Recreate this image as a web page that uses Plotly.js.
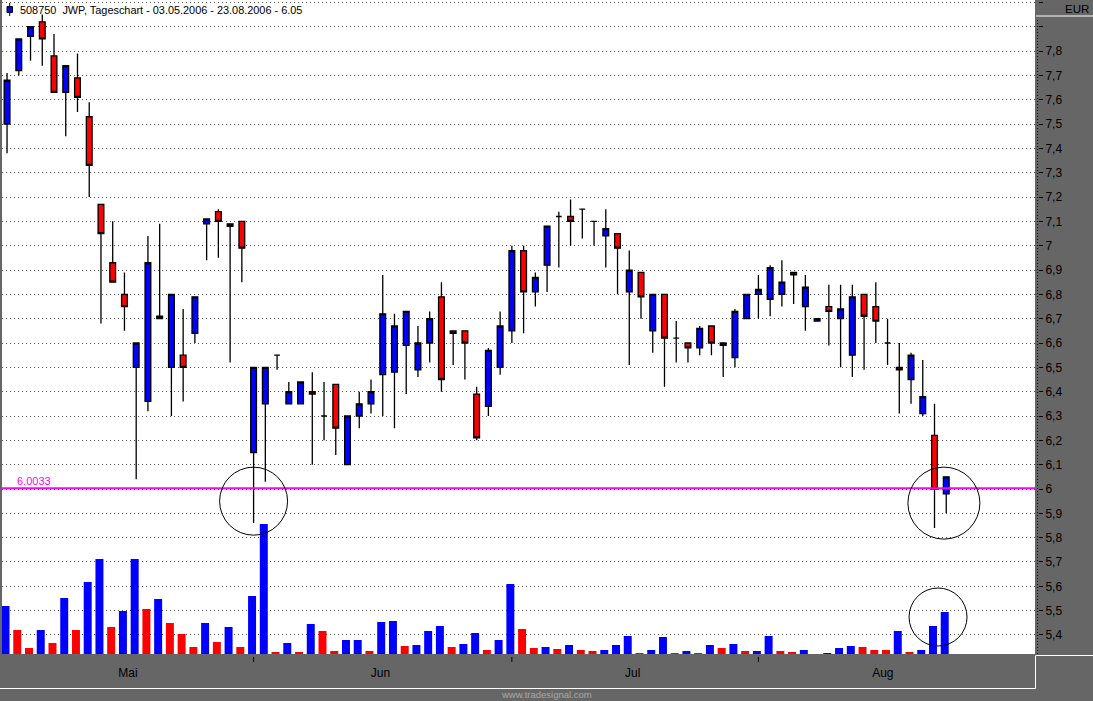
<!DOCTYPE html>
<html>
<head>
<meta charset="utf-8">
<script src="https://cdn.plot.ly/plotly-3.0.1.min.js"></script>
<style>
  html, body { margin: 0; padding: 0; background: #666666; }
  #chart { width: 1093px; height: 701px; }
</style>
</head>
<body>
<div id="chart"></div>
<script>
// ---- Daily OHLC, 03.05.2006 - 23.08.2006 (one entry per trading day) ----
const open = [7.50,7.72,7.86,7.92,7.78,7.63,7.69,7.53,7.17,6.93,6.80,6.50,6.36,6.70,6.50,6.55,6.64,7.09,7.14,7.09,7.10,
              6.15,6.35,6.55,6.35,6.35,6.40,6.30,6.43,6.10,6.30,6.35,6.47,6.48,6.59,6.49,6.60,6.79,6.65,6.65,6.39,6.34,6.50,
              6.65,6.98,6.81,6.92,7.12,7.12,7.15,7.10,7.04,7.05,6.81,6.89,6.65,6.80,6.62,6.60,6.58,6.67,6.60,6.54,6.70,
              6.80,6.78,6.80,6.89,6.75,6.69,6.75,6.70,6.55,6.80,6.75,6.60,6.50,6.45,6.31,6.22,5.98];
const high = [7.71,7.85,7.90,7.95,7.87,7.74,7.79,7.59,7.17,7.10,6.89,6.60,7.04,7.09,6.80,6.74,6.79,7.11,7.15,7.09,7.10,
              6.50,6.50,6.55,6.44,6.44,6.48,6.44,6.43,6.30,6.40,6.45,6.88,6.72,6.73,6.67,6.73,6.85,6.65,6.65,6.42,6.58,6.73,
              7.00,7.00,6.89,7.08,7.14,7.19,7.15,7.10,7.15,7.05,6.98,6.89,6.80,6.80,6.69,6.60,6.67,6.67,6.60,6.74,6.80,
              6.88,6.92,6.94,6.89,6.88,6.70,6.84,6.84,6.84,6.80,6.85,6.70,6.60,6.56,6.53,6.35,6.05];
const low  = [7.38,7.70,7.76,7.74,7.63,7.45,7.55,7.20,6.68,6.85,6.65,6.04,6.32,6.70,6.30,6.36,6.60,6.94,6.95,6.52,6.85,
              5.86,6.03,6.49,6.35,6.35,6.10,6.20,6.14,6.10,6.25,6.31,6.30,6.25,6.39,6.46,6.52,6.40,6.51,6.45,6.20,6.30,6.47,
              6.60,6.64,6.75,6.81,6.91,7.00,7.03,7.00,6.91,6.80,6.51,6.70,6.56,6.42,6.52,6.52,6.55,6.55,6.46,6.50,6.70,
              6.70,6.71,6.75,6.76,6.65,6.69,6.59,6.50,6.46,6.49,6.60,6.51,6.31,6.35,6.30,5.84,5.90];
const close = [7.68,7.85,7.90,7.85,7.63,7.74,7.61,7.33,7.05,6.85,6.75,6.60,6.93,6.71,6.80,6.50,6.79,7.11,7.10,7.08,6.99,
               6.50,6.50,6.55,6.40,6.44,6.39,6.30,6.25,6.30,6.35,6.40,6.72,6.67,6.73,6.60,6.70,6.45,6.64,6.60,6.21,6.57,6.67,
               6.98,6.81,6.87,7.08,7.12,7.10,7.15,7.10,7.07,6.99,6.90,6.79,6.80,6.62,6.62,6.58,6.66,6.60,6.59,6.73,6.80,
               6.82,6.91,6.85,6.88,6.83,6.70,6.73,6.74,6.79,6.71,6.69,6.60,6.49,6.55,6.38,6.00,6.05];
// ---- Volume (relative units) and its colour flag (B = blue, R = red) ----
const volume = [48,24,6,24,11,56,24,72,95,27,43,95,45,55,31,20,7,31,12,27,7,58,130,2,11,2,30,23,3,14,14,
                3,32,33,8,9,23,28,7,10,21,4,14,70,25,6,7,5,9,4,3,4,9,18,1,4,17,1,3,1,
                9,6,10,3,3,18,3,2,4,0,1,6,8,7,4,4,23,2,4,28,42];
const volumeColour = ['B','R','R','B','R','B','R','B','B','R','B','B','R','B','R','R','R','B','R','B','R','B','B','R','B','R','B','R','R','B','B',
                      'R','B','B','R','B','B','B','R','B','B','R','B','B','R','R','B','R','B','R','R','B','B','B','R','B','B','R','B','R',
                      'B','R','B','R','B','B','R','R','B','B','B','B','B','R','R','R','B','R','B','B','B'];
// ---- Axis labels ----
const monthLabels = ['Mai', 'Jun', 'Jul', 'Aug'];
const monthStartDay = [21, 43, 64];               // index of first trading day of Jun, Jul, Aug
const priceTickValues = [5.4,5.5,5.6,5.7,5.8,5.9,6.0,6.1,6.2,6.3,6.4,6.5,6.6,6.7,6.8,6.9,7.0,7.1,7.2,7.3,7.4,7.5,7.6,7.7,7.8,7.9,8.0];
const priceTickLabels = ['5,4','5,5','5,6','5,7','5,8','5,9','6','6,1','6,2','6,3','6,4','6,5','6,6','6,7','6,8','6,9','7','7,1','7,2','7,3','7,4','7,5','7,6','7,7','7,8','',''];
const supportLevel = 6.0033;
const titleText = '508750\u00a0 JWP, Tageschart - 03.05.2006 - 23.08.2006 - 6.05';

// ---- geometry helpers (layout only) ----
const W = 1093, H = 701, ML = 2, MR = 58, MT = 0, MB = 47;
const PW = W - ML - MR, PH = H - MT - MB;
const px = v => (v - ML) / PW;        // page x pixel -> paper
const py = v => (MT + PH - v) / PH;   // page y pixel -> paper

const days = open.map((_, i) => i);
const BLUE = '#0000ff', RED = '#ff0000';
const FONT = 'Liberation Sans, Arial, sans-serif';

const volumeTrace = {
  type: 'bar', x: days, y: volume, yaxis: 'y2',
  width: 0.68, offset: -0.47,
  marker: { color: volumeColour.map(c => c === 'B' ? BLUE : RED), line: { width: 0 } },
  hoverinfo: 'skip'
};
const candleTrace = {
  type: 'candlestick', x: days, open: open, high: high, low: low, close: close,
  increasing: { line: { color: '#000000', width: 1.3 }, fillcolor: BLUE },
  decreasing: { line: { color: '#000000', width: 1.3 }, fillcolor: RED },
  whiskerwidth: 0, hoverinfo: 'x+y'
};

// month label positions: middle of each month's trading-day block
const monthLabelPos = [10.3, 31.8, 53.3, 74.6];

const shapes = [];
// support line
shapes.push({ type: 'line', xref: 'paper', x0: 0, x1: 1, yref: 'y', y0: supportLevel, y1: supportLevel,
  line: { color: '#ff00ff', width: 2 }, layer: 'above' });
// circles
shapes.push({ type: 'circle', xref: 'x', yref: 'y', xsizemode: 'pixel', ysizemode: 'pixel',
  xanchor: 21, yanchor: 5.95, x0: -34, x1: 34, y0: -34, y1: 34, line: { color: '#000', width: 1 }, layer: 'above' });
shapes.push({ type: 'circle', xref: 'x', yref: 'y', xsizemode: 'pixel', ysizemode: 'pixel',
  xanchor: 79.8, yanchor: 5.942, x0: -36, x1: 36, y0: -36, y1: 36, line: { color: '#000', width: 1 }, layer: 'above' });
shapes.push({ type: 'circle', xref: 'x', yref: 'y2', xsizemode: 'pixel', ysizemode: 'pixel',
  xanchor: 79.3, yanchor: 37, x0: -29, x1: 29, y0: -29, y1: 29, line: { color: '#000', width: 1 }, layer: 'above' });
// month boundary ticks
monthStartDay.forEach(d => shapes.push({ type: 'line', xref: 'x', x0: d, x1: d, yref: 'paper',
  y0: py(657), y1: py(662), line: { color: '#000', width: 1 } }));
// dotted price-axis line
shapes.push({ type: 'line', xref: 'paper', x0: px(1037.5), x1: px(1037.5), yref: 'paper', y0: py(654), y1: py(18),
  line: { color: '#000', width: 1, dash: '1px,2px' } });
// white panel separators
shapes.push({ type: 'line', xref: 'paper', x0: px(1036), x1: px(1094), yref: 'paper', y0: py(16), y1: py(16), line: { color: '#fff', width: 1 } });
shapes.push({ type: 'line', xref: 'paper', x0: px(1036), x1: px(1094), yref: 'paper', y0: py(655.5), y1: py(655.5), line: { color: '#fff', width: 1 } });
shapes.push({ type: 'line', xref: 'paper', x0: px(1035.5), x1: px(1035.5), yref: 'paper', y0: py(655.5), y1: py(688.5), line: { color: '#fff', width: 1 } });
shapes.push({ type: 'line', xref: 'paper', x0: px(0), x1: px(1035.5), yref: 'paper', y0: py(688.5), y1: py(688.5), line: { color: '#fff', width: 1 } });
// title icon (mini candle)
shapes.push({ type: 'line', xref: 'paper', x0: px(9.7), x1: px(9.7), yref: 'paper', y0: py(3), y1: py(16), line: { color: '#000', width: 1 } });
shapes.push({ type: 'rect', xref: 'paper', x0: px(7), x1: px(12.5), yref: 'paper', y0: py(6.5), y1: py(12.5),
  fillcolor: BLUE, line: { color: '#000', width: 1 } });

const annotations = [
  { xref: 'paper', yref: 'paper', x: px(18), y: py(10), xanchor: 'left', yanchor: 'middle', showarrow: false,
    text: titleText, font: { family: FONT, size: 10.9, color: '#000' } },
  { xref: 'paper', yref: 'paper', x: px(1091), y: py(9), xanchor: 'right', yanchor: 'middle', showarrow: false,
    text: 'EUR', font: { family: FONT, size: 11.5, color: '#000' } },
  { xref: 'paper', yref: 'y', x: px(16), y: supportLevel, xanchor: 'left', yanchor: 'bottom', showarrow: false,
    text: String(supportLevel), font: { family: FONT, size: 11, color: '#ff00ff' }, borderpad: 0 },
  { xref: 'paper', yref: 'paper', x: px(546), y: py(695), xanchor: 'center', yanchor: 'middle', showarrow: false,
    text: 'www.tradesignal.com', font: { family: FONT, size: 9.5, color: '#a8a8a8' } }
];

const layout = {
  width: W, height: H,
  margin: { l: ML, r: MR, t: MT, b: MB, pad: 0 },
  paper_bgcolor: '#666666', plot_bgcolor: '#ffffff',
  showlegend: false, separators: ',.', dragmode: false,
  font: { family: FONT, size: 12, color: '#000' },
  xaxis: {
    range: [-0.43, 87.56], tickmode: 'array', tickvals: monthLabelPos, ticktext: monthLabels,
    ticks: 'outside', ticklen: 8, tickcolor: 'rgba(0,0,0,0)',
    showgrid: false, zeroline: false, showline: false,
    rangeslider: { visible: false }, fixedrange: true,
    tickfont: { family: FONT, size: 12, color: '#000' }
  },
  yaxis: {
    range: [5.3218, 8.0099], side: 'right', anchor: 'free', position: 1, shift: 3,
    tickmode: 'array', tickvals: priceTickValues, ticktext: priceTickLabels,
    ticks: 'outside', ticklen: 4, tickcolor: '#000', tickwidth: 1,
    showgrid: true, gridcolor: '#555555', gridwidth: 1, griddash: '1px,3px',
    zeroline: false, showline: false, fixedrange: true,
    tickfont: { family: FONT, size: 12, color: '#000' }
  },
  yaxis2: { overlaying: 'y', range: [0, PH], visible: false, fixedrange: true },
  shapes: shapes,
  annotations: annotations
};

Plotly.newPlot('chart', [volumeTrace, candleTrace], layout, { displayModeBar: false, staticPlot: true });
</script>
</body>
</html>
